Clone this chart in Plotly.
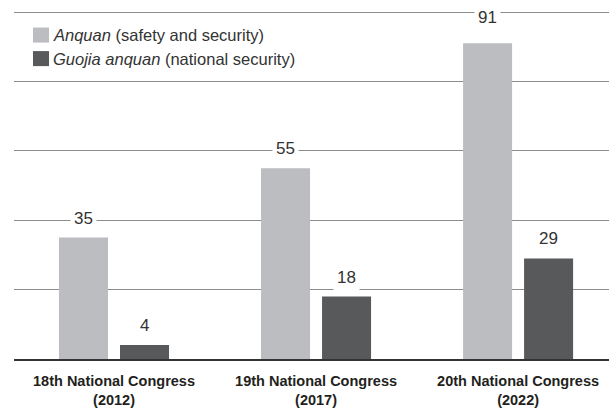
import plotly.graph_objects as go

categories = ["18th National Congress<br>(2012)", "19th National Congress<br>(2017)", "20th National Congress<br>(2022)"]
anquan = [35, 55, 91]
guojia_anquan = [4, 18, 29]
series_names = ["<i>Anquan</i> (safety and security)", "<i>Guojia anquan</i> (national security)"]

LIGHT = "#bcbdc0"
DARK = "#58595b"
BAR_W = 0.2426
GAP = 0.0297

xs = list(range(len(categories)))

fig = go.Figure()
fig.add_trace(go.Bar(x=xs, y=anquan, width=BAR_W, offset=-(BAR_W + GAP),
                     marker=dict(color=LIGHT, line=dict(width=0)), showlegend=False,
                     hoverinfo="y"))
fig.add_trace(go.Bar(x=xs, y=guojia_anquan, width=BAR_W, offset=GAP,
                     marker=dict(color=DARK, line=dict(width=0)), showlegend=False,
                     hoverinfo="y"))

annotations = []
for i, (a, g) in enumerate(zip(anquan, guojia_anquan)):
    for val, off in ((a, -(GAP + BAR_W / 2)), (g, GAP + BAR_W / 2)):
        shift = 6 if val < 90 else 12  # top label sits on the top gridline
        annotations.append(dict(x=i + off, y=val, xref="x", yref="y", text=str(val),
                                showarrow=False, yanchor="bottom", yshift=shift,
                                font=dict(family="Liberation Sans, Arial, sans-serif", size=17, color="#333333"),
                                bgcolor="white", borderpad=3))

# legend
legend_y = [35.5, 59]
colors = [LIGHT, DARK]
shapes = []
PLOT_H = 347.54
for name, yy, c in zip(series_names, legend_y, colors):
    shapes.append(dict(type="rect", xref="paper", yref="paper",
                       x0=(33 - 14) / 595, x1=(49 - 14) / 595,
                       y0=(359 - (yy + 7.5)) / PLOT_H, y1=(359 - (yy - 7.5)) / PLOT_H,
                       fillcolor=c, line=dict(width=0), layer="above"))
    annotations.append(dict(x=(51 - 14) / 595, y=(359 - yy) / PLOT_H, xref="paper", yref="paper",
                            text=name, showarrow=False, xanchor="left", yanchor="middle",
                            font=dict(family="Liberation Sans, Arial, sans-serif", size=16.5, color="#333333"),
                            bgcolor="white"))

ticktext = ["<br>".join("<b>%s</b>" % part for part in c.split("<br>")) for c in categories]

fig.update_layout(
    width=609, height=410,
    margin=dict(l=14, r=0, t=11.46, b=51),
    paper_bgcolor="white", plot_bgcolor="white",
    barmode="overlay",
    annotations=annotations,
    shapes=shapes,
    xaxis=dict(range=[-0.495, 2.45], tickmode="array", tickvals=xs, ticktext=ticktext,
               showgrid=False, zeroline=False, showline=True, linecolor="#333333", linewidth=1.5,
               ticks="", ticklabelstandoff=8,
               tickfont=dict(family="Liberation Sans, Arial, sans-serif", size=14.5, color="#231f20")),
    yaxis=dict(range=[0, 100.3], tickvals=[20, 40, 60, 80, 100], showticklabels=False,
               showgrid=True, gridcolor="#8c8c8c", gridwidth=1, zeroline=False, ticks=""),
    font=dict(family="Liberation Sans, Arial, sans-serif"),
)

fig.write_html("out.html")
